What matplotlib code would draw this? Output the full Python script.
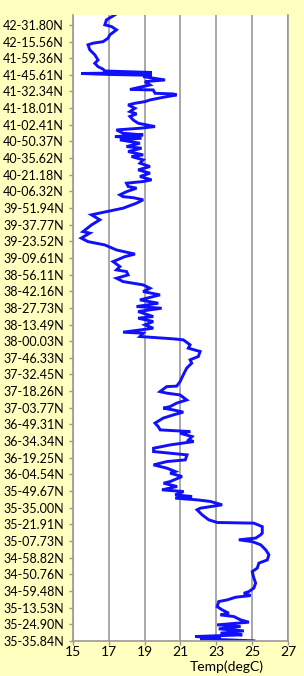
import matplotlib.pyplot as plt
import numpy as np

# latitude labels, top to bottom as shown on the axis
lat_labels = [
    "42-31.80N", "42-15.56N", "41-59.36N", "41-45.61N", "41-32.34N",
    "41-18.01N", "41-02.41N", "40-50.37N", "40-35.62N", "40-21.18N",
    "40-06.32N", "39-51.94N", "39-37.77N", "39-23.52N", "39-09.61N",
    "38-56.11N", "38-42.16N", "38-27.73N", "38-13.49N", "38-00.03N",
    "37-46.33N", "37-32.45N", "37-18.26N", "37-03.77N", "36-49.31N",
    "36-34.34N", "36-19.25N", "36-04.54N", "35-49.67N", "35-35.00N",
    "35-21.91N", "35-07.73N", "34-58.82N", "34-50.76N", "34-59.48N",
    "35-13.53N", "35-24.90N", "35-35.84N",
]

# position along the track (in label steps, 0 = start at the bottom)
track_pos = [
    0.00, 0.12, 0.16, 0.26, 0.36, 0.46, 0.60, 0.72, 0.86, 0.96,
    1.12, 1.26, 1.46, 1.56, 1.66, 1.86, 2.06, 2.36, 2.46, 2.62,
    2.72, 2.86, 2.96, 3.17, 3.47, 3.77, 4.16, 4.37, 4.67, 4.86,
    5.17, 5.47, 5.77, 5.96, 6.07, 6.17, 6.37, 6.47, 6.86, 7.07,
    7.11, 7.27, 7.57, 7.87, 7.97, 8.17, 8.37, 8.47, 8.57, 8.67,
    8.77, 8.97, 9.07, 9.27, 9.47, 9.57, 9.87, 10.07, 10.17, 10.37,
    10.57, 10.77, 10.87, 11.17, 11.27, 11.37, 11.57, 11.77, 11.97, 12.07,
    12.27, 12.47, 12.57, 12.67, 12.87, 13.08, 13.38, 13.57, 13.74, 13.87,
    13.98, 14.07, 14.28, 14.47, 14.77, 14.88, 14.97, 15.27, 15.30, 15.57,
    15.98, 16.38, 16.68, 16.88, 17.08, 17.38, 17.58, 17.78, 18.08, 18.14,
    18.28, 18.48, 18.54, 18.78, 18.98, 19.18, 19.38, 19.48, 19.78, 19.98,
    20.08, 20.28, 20.48, 20.78, 20.98, 21.18, 21.38, 21.58, 21.78, 21.98,
    22.18, 22.28, 22.48, 22.78, 23.08, 23.23, 23.48, 23.78, 23.98, 24.19,
    24.49, 24.58, 24.98, 25.29, 25.59, 25.78, 25.99, 26.29, 26.49, 26.62,
    26.68, 26.79, 26.98, 27.19, 27.29, 27.49, 27.59, 27.69, 27.89, 28.09,
    28.29, 28.49, 28.69, 28.89, 29.09, 29.19, 29.39, 29.59, 29.69, 29.89,
    30.09, 30.19, 30.29, 30.39, 30.49, 30.69, 30.79, 30.89, 31.09, 31.29,
    31.50, 31.65, 31.79, 31.99, 32.19, 32.29, 32.39, 32.49, 32.65, 32.79,
    32.85, 32.89, 33.09, 33.12, 33.39, 33.59, 33.69, 33.80, 33.89, 33.97,
    34.02, 34.08, 34.14, 34.23, 34.34, 34.49, 34.69, 34.89, 35.20, 35.50,
    35.80, 35.90, 35.99, 36.20, 36.40, 36.70, 36.90, 37.00, 37.30, 37.60,
]

temp = [
    25.10, 22.11, 23.24, 21.83, 24.45, 23.24, 24.54, 23.14, 24.36, 23.05,
    24.82, 24.36, 23.98, 23.24, 23.70, 23.33, 23.05, 23.14, 23.61, 24.08,
    24.92, 24.54, 24.82, 25.10, 25.20, 25.10, 25.01, 25.29, 25.38, 25.85,
    25.94, 25.76, 25.48, 25.01, 24.26, 25.20, 25.48, 25.57, 25.57, 25.10,
    23.05, 22.58, 22.21, 21.93, 22.11, 23.33, 22.68, 21.93, 20.71, 21.65,
    20.71, 21.18, 19.97, 20.81, 20.06, 20.43, 21.09, 20.43, 20.71, 20.25,
    19.50, 20.25, 21.27, 21.37, 20.43, 19.50, 19.50, 20.43, 21.74, 21.46,
    21.65, 20.99, 21.55, 19.87, 19.76, 19.58, 20.04, 20.60, 21.16, 20.60,
    20.04, 20.42, 20.79, 21.35, 20.98, 20.23, 19.86, 20.23, 20.79, 20.98,
    21.16, 21.35, 21.63, 21.54, 22.00, 22.10, 21.44, 21.54, 21.16, 20.60,
    18.74, 18.92, 17.80, 19.48, 19.02, 19.48, 18.64, 19.48, 18.64, 19.95,
    18.55, 19.76, 18.74, 19.86, 18.92, 19.30, 18.92, 17.80, 17.43, 18.08,
    17.99, 17.43, 17.62, 17.24, 17.90, 18.46, 17.43, 16.78, 15.84, 15.46,
    15.94, 15.56, 16.03, 16.50, 16.03, 16.87, 17.80, 18.55, 18.92, 18.36,
    17.80, 17.62, 17.99, 18.55, 18.08, 17.99, 18.92, 19.39, 18.74, 19.30,
    18.64, 19.30, 18.74, 18.92, 18.27, 18.92, 18.08, 18.83, 17.99, 18.74,
    17.62, 18.83, 17.34, 18.92, 17.80, 17.43, 18.74, 19.58, 18.64, 18.36,
    18.18, 18.55, 18.18, 18.46, 18.08, 18.46, 19.02, 19.30, 20.04, 20.79,
    20.60, 19.58, 19.48, 18.18, 19.30, 19.02, 20.14, 19.48, 18.92, 19.39,
    17.07, 15.46, 19.39, 16.78, 16.68, 16.40, 16.22, 16.40, 16.22, 15.94,
    15.84, 16.12, 16.68, 16.96, 17.06, 17.43, 17.15, 16.78, 16.87, 17.34,
]

x_ticks = [15, 17, 19, 21, 23, 25, 27]

fig = plt.figure(figsize=(3.04, 6.76), dpi=100)
fig.patch.set_facecolor("#ffffc0")
ax = fig.add_axes([0.240, 0.052, 0.707, 0.926])
ax.set_facecolor("white")

ax.plot(temp, track_pos, color="#1010ff", linewidth=2.1, solid_joinstyle="miter")

n = len(lat_labels)
ax.set_yticks(np.arange(n - 1, -1, -1))
ax.set_yticklabels(lat_labels)
ax.set_ylim(0, 37.6)

ax.set_xticks(x_ticks)
ax.set_xlim(15, 27)
ax.xaxis.grid(True, color="#999999", linewidth=1.2)
ax.set_axisbelow(True)

for side in ["left", "bottom", "right"]:
    ax.spines[side].set_color("#999999")
    ax.spines[side].set_linewidth(1.2)
ax.spines["top"].set_visible(False)

ax.tick_params(axis="both", colors="#999999", length=3, width=1, labelcolor="black",
               labelsize=9)
ax.tick_params(axis="x", pad=1, labelsize=10)
for lbl in ax.get_xticklabels() + ax.get_yticklabels():
    lbl.set_family("Lato")

ax.set_xlabel("Temp(degC)", fontsize=10, family="Lato")
ax.xaxis.set_label_coords(0.716, -0.032)

fig.savefig("out.png", dpi=100, facecolor=fig.get_facecolor())
